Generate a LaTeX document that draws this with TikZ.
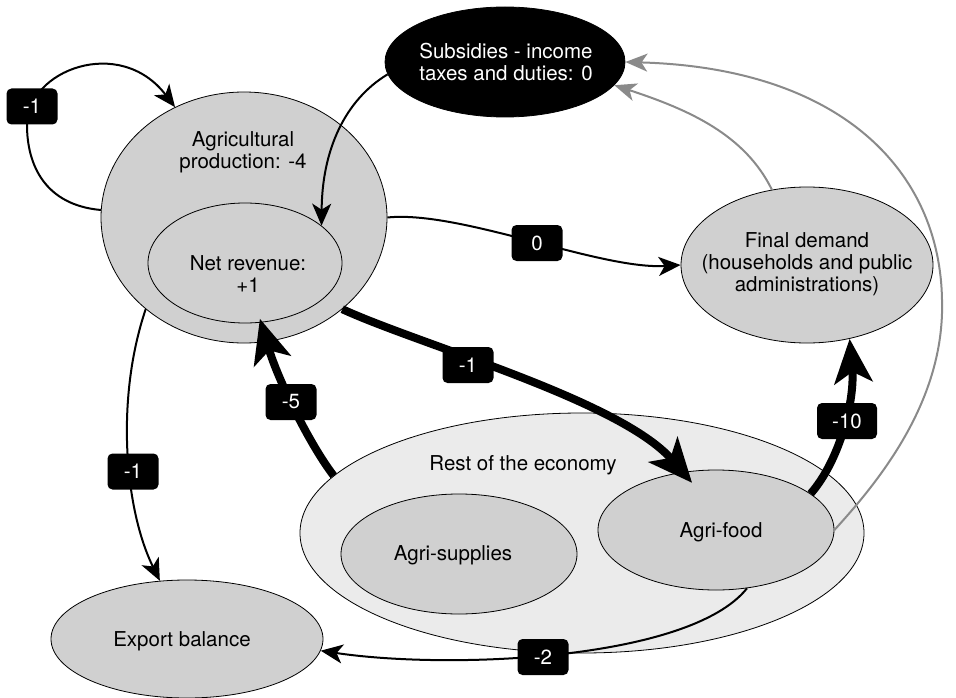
\documentclass[tikz,border=0pt]{standalone}
\usepackage{fontspec}
\setmainfont{TeX Gyre Heros}
\usetikzlibrary{shapes.geometric,arrows.meta}
\definecolor{zonefill}{HTML}{D0D0D0}
\definecolor{outerfill}{HTML}{EBEBEB}
\definecolor{feedback}{HTML}{8A8A8A}
\begin{document}
\begin{tikzpicture}[x=1pt,y=-1pt,
  font=\fontsize{20.5}{22}\selectfont,
  zone/.style={ellipse,draw=black,line width=0.8pt,fill=zonefill,inner sep=0pt},
  caption/.style={align=center,inner sep=0pt},
  flow/.style={line width=2pt,-{Stealth[length=22pt,width=19pt,inset=6pt]}},
  bigflow/.style={line width=8pt,-{Stealth[length=44pt,width=38pt,inset=11pt]}},
  backflow/.style={draw=feedback,line width=2pt,-{Stealth[length=22pt,width=18pt,inset=6pt]}},
  tag/.style={fill=black,text=white,rounded corners=5pt,minimum width=51pt,
    minimum height=36pt,inner sep=0pt}
]
\useasboundingbox (0,0) rectangle (956,698);

% --- sectors ---
\node[zone,fill=outerfill,minimum width=564pt,minimum height=240pt] (ro) at (582,533) {};
\node[zone,minimum width=236pt,minimum height=120pt] (as) at (459,554) {};
\node[zone,minimum width=236pt,minimum height=120pt] (af) at (716,530) {};
\node[zone,minimum width=286pt,minimum height=251pt] (ap) at (244,217.5) {};
\node[zone,minimum width=194pt,minimum height=120pt] (nr) at (245,263) {};
\node[zone,fill=black,minimum width=240pt,minimum height=110pt] (sub) at (505,62) {};
\node[zone,minimum width=252pt,minimum height=156pt] (fd) at (807,265) {};
\node[zone,minimum width=272pt,minimum height=118pt] (eb) at (187,639) {};

% --- sector names ---
\node[caption] (apt) at (243,152) {Agricultural\\production: -4};
\node[caption] (nrt) at (248,274) {Net revenue:\\+1};
\node[caption,text=white] (subt) at (506,62) {Subsidies - income\\taxes and duties: 0};
\node[caption] (fdt) at (807,264) {Final demand\\(households and public\\administrations)};
\node[caption] (rot) at (523,465) {Rest of the economy};
\node[caption] (ast) at (453,555) {Agri-supplies};
\node[caption] (aft) at (721,532) {Agri-food};
\node[caption] (ebt) at (182,641) {Export balance};

% --- feedback to subsidies ---
\draw[backflow] (fd.115) .. controls (745,135) and (690,110) .. (sub.-12);
\draw[backflow] (af.0) .. controls (880,480) and (945,400) .. (942,300)
  .. controls (940,170) and (840,68) .. (sub.0);

% --- flows ---
\draw[flow] (ap.177) .. controls (45,205) and (27,165) .. (27,125)
  .. controls (27,70) and (120,35) .. (ap.122);
\draw[flow] (sub.186) .. controls (345,100) and (322,150) .. (nr.26);
\draw[flow] (ap.0) .. controls (460,210) and (600,270) .. (fd.180);
\draw[flow] (ap.-137) .. controls (115,400) and (125,510) .. (eb.115);
\draw[flow] (af.-62) .. controls (690,660) and (450,670) .. (eb.-5);
\draw[bigflow] (ap.-43) .. controls (420,345) and (620,400) .. ([yshift=-12pt]af.112);
\draw[bigflow] (ro.167) .. controls (310,445) and (278,380) .. ([yshift=4pt]nr.-76);
\draw[bigflow] (af.21) .. controls (840,460) and (855,400) .. (fd.-60);

% --- values ---
\node[tag] (v1) at (32,106.5) {-1};
\node[tag] (v2) at (537,243) {0};
\node[tag] (v3) at (468,365) {-1};
\node[tag] (v4) at (291,402) {-5};
\node[tag] (v5) at (133,471.5) {-1};
\node[tag,minimum width=60pt] (v6) at (847,421) {-10};
\node[tag] (v7) at (543,657) {-2};
\end{tikzpicture}
\end{document}
